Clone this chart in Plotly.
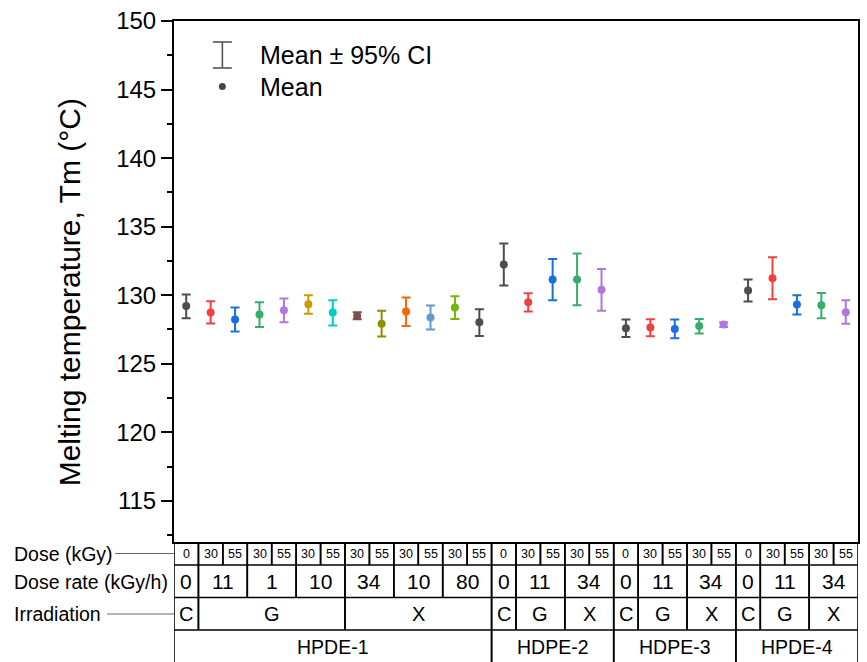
import plotly.graph_objects as go

# ---------------- data ----------------
dose = ["0", "30", "55", "30", "55", "30", "55", "30", "55", "30", "55", "30", "55",
        "0", "30", "55", "30", "55",
        "0", "30", "55", "30", "55",
        "0", "30", "55", "30", "55"]

tm_mean = [129.22, 128.74, 128.23, 128.59, 128.91, 129.34, 128.74, 128.49, 127.91, 128.81, 128.37, 129.10, 128.03,
           132.24, 129.49, 131.14, 131.14, 130.39,
           127.59, 127.64, 127.54, 127.76, 127.86,
           130.34, 131.24, 129.32, 129.27, 128.76]
ci_upper = [130.05, 129.56, 129.10, 129.49, 129.76, 130.00, 129.64, 128.76, 128.86, 129.83, 129.25, 129.93, 128.98,
            133.77, 130.15, 132.65, 133.04, 131.92,
            128.22, 128.25, 128.22, 128.27, 128.03,
            131.14, 132.77, 130.00, 130.17, 129.64]
ci_lower = [128.32, 127.93, 127.35, 127.69, 128.03, 128.64, 127.79, 128.25, 126.99, 127.76, 127.50, 128.27, 127.03,
            130.70, 128.81, 129.64, 129.27, 128.86,
            126.96, 127.01, 126.86, 127.21, 127.69,
            129.54, 129.71, 128.59, 128.32, 127.91]

dose_rate_groups = [("0", 1), ("11", 2), ("1", 2), ("10", 2), ("34", 2), ("10", 2), ("80", 2),
                    ("0", 1), ("11", 2), ("34", 2),
                    ("0", 1), ("11", 2), ("34", 2),
                    ("0", 1), ("11", 2), ("34", 2)]
irradiation_groups = [("C", 1), ("G", 6), ("X", 6),
                      ("C", 1), ("G", 2), ("X", 2),
                      ("C", 1), ("G", 2), ("X", 2),
                      ("C", 1), ("G", 2), ("X", 2)]
material_groups = [("HPDE-1", 13), ("HDPE-2", 5), ("HDPE-3", 5), ("HPDE-4", 5)]

row_labels = ["Dose (kGy)", "Dose rate (kGy/h)", "Irradiation"]
y_title = "Melting temperature, Tm (°C)"
legend_texts = ["Mean ± 95% CI", "Mean"]

palette1 = ["#4d4d4d", "#f14040", "#1a6fdf", "#37ad6b", "#b177de", "#cc9900", "#00cbcc",
            "#7d4e4e", "#8e8e00", "#fb6501", "#6699cc", "#6fb802", "#4d4d4d"]
palette2 = ["#4d4d4d", "#f14040", "#1a6fdf", "#37ad6b", "#b177de"]
colors = palette1 + palette2 * 3

# ---------------- layout geometry ----------------
W, H = 867, 662
L, R, T, B = 174, 7, 21, 120
PW, PH = W - L - R, H - T - B
FONT = "Arial, Liberation Sans, sans-serif"


def py(p):  # pixel y -> paper y
    return (H - B - p) / PH


def pxx(p):  # pixel x -> paper x
    return (p - L) / PW


fig = go.Figure()
n = len(tm_mean)
for i in range(n):
    fig.add_trace(go.Scatter(
        x=[i], y=[tm_mean[i]], mode="markers",
        marker=dict(color=colors[i], size=8),
        error_y=dict(type="data", symmetric=False,
                     array=[ci_upper[i] - tm_mean[i]],
                     arrayminus=[tm_mean[i] - ci_lower[i]],
                     color=colors[i], thickness=2, width=4.5),
        showlegend=False, hoverinfo="y"))

shapes = []
annotations = []
LW = 1.6

# row boundaries (pixels)
row_y = [542, 565, 597.5, 630, 662]


def bounds(groups):
    out, c = [], 0
    for _, s in groups:
        out.append((c, c + s))
        c += s
    return out


dose_groups = [(d, 1) for d in dose]
rows = [dose_groups, dose_rate_groups, irradiation_groups, material_groups]
font_sizes = [12.5, 21, 20, 19.5]
text_y = [553.5, 581.5, 614, 647]

for r, groups in enumerate(rows):
    for (lab, _), (a, b) in zip(groups, bounds(groups)):
        for edge in (a, b):
            shapes.append(dict(type="line", xref="x", yref="paper",
                               x0=edge - 0.5, x1=edge - 0.5,
                               y0=py(row_y[r]), y1=py(row_y[r + 1]),
                               line=dict(color="black", width=LW)))
        annotations.append(dict(x=(a + b - 1) / 2, y=py(text_y[r]), xref="x", yref="paper",
                                text=lab, showarrow=False, xanchor="center", yanchor="middle",
                                font=dict(family=FONT, size=font_sizes[r], color="black")))
for r in range(1, 4):
    shapes.append(dict(type="line", xref="paper", yref="paper", x0=0, x1=1,
                       y0=py(row_y[r]), y1=py(row_y[r]),
                       line=dict(color="black", width=LW)))

# row labels with connectors
label_y = [553.5, 582, 614]
for lab, yy in zip(row_labels, label_y):
    annotations.append(dict(x=pxx(12), y=py(yy), xref="paper", yref="paper", text=lab,
                            showarrow=False, xanchor="left", yanchor="middle",
                            font=dict(family=FONT, size=19.5, color="black")))
for x0, yy in [(115, 553.5), (107, 614)]:
    shapes.append(dict(type="line", xref="paper", yref="paper", x0=pxx(x0), x1=0,
                       y0=py(yy), y1=py(yy), line=dict(color="#666666", width=1)))

# y title
annotations.append(dict(x=pxx(69), y=py(292), xref="paper", yref="paper", text=y_title,
                        textangle=-90, showarrow=False, xanchor="center", yanchor="middle",
                        font=dict(family=FONT, size=30, color="black")))

# legend
lc = "#555555"
cx = 222.5
shapes += [
    dict(type="line", xref="paper", yref="paper", x0=pxx(cx), x1=pxx(cx), y0=py(42), y1=py(68),
         line=dict(color=lc, width=1.6)),
    dict(type="line", xref="paper", yref="paper", x0=pxx(213), x1=pxx(232), y0=py(42), y1=py(42),
         line=dict(color=lc, width=1.6)),
    dict(type="line", xref="paper", yref="paper", x0=pxx(213), x1=pxx(232), y0=py(68), y1=py(68),
         line=dict(color=lc, width=1.6)),
    dict(type="circle", xref="paper", yref="paper", x0=pxx(cx - 3.5), x1=pxx(cx + 3.5),
         y0=py(90), y1=py(83), fillcolor="#444444", line=dict(width=0)),
]
for txt, yy in zip(legend_texts, [55, 87]):
    annotations.append(dict(x=pxx(258), y=py(yy), xref="paper", yref="paper", text=txt,
                            showarrow=False, xanchor="left", yanchor="middle",
                            font=dict(family=FONT, size=25, color="black")))

fig.update_layout(
    width=W, height=H,
    margin=dict(l=L, r=R, t=T, b=B, pad=0),
    paper_bgcolor="white", plot_bgcolor="white",
    font=dict(family=FONT, color="black"),
    xaxis=dict(range=[-0.5, n - 0.5], showticklabels=False, ticks="", showgrid=False,
               zeroline=False, showline=True, mirror=True, linecolor="black", linewidth=2),
    yaxis=dict(range=[112, 150], dtick=5, tick0=0, ticks="outside", ticklen=11, tickwidth=2,
               tickcolor="black", tickfont=dict(family=FONT, size=24, color="black"),
               showgrid=False, zeroline=False, showline=True, mirror=True,
               linecolor="black", linewidth=2,
               minor=dict(dtick=2.5, ticks="outside", ticklen=5, tickwidth=1.5, tickcolor="black")),
    shapes=shapes, annotations=annotations,
)

fig.write_html("out.html")
